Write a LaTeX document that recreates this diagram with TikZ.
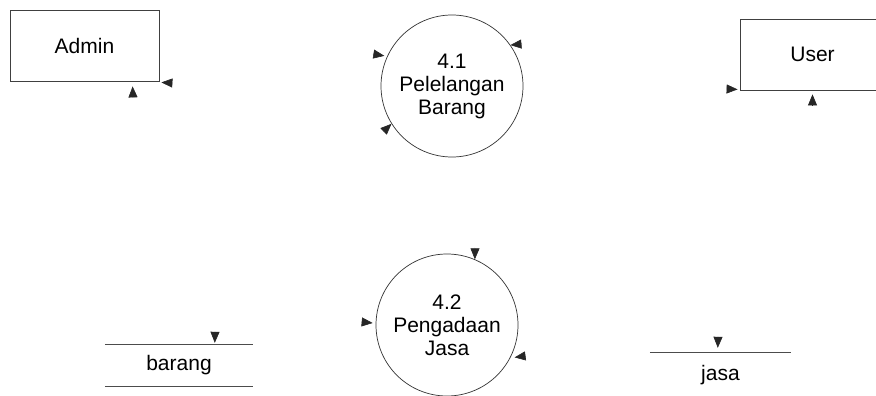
\documentclass[tikz,border=0pt]{standalone}
\usepackage{fontspec}
\setmainfont{Liberation Sans}
\usetikzlibrary{calc,arrows.meta}

\tikzset{
  lbl/.style={font=\fontsize{21}{23}\selectfont, text=black},
  entity/.style={draw=black!75, line width=0.8pt, rectangle, inner sep=0pt, lbl},
  process/.style={draw=black!80, line width=0.7pt, circle, inner sep=0pt,
                  minimum size=142pt, align=center, lbl},
  store/.style={rectangle, inner sep=0pt, lbl},
  storeline/.style={draw=black!70, line width=0.7pt},
  flowtip/.style={-{Triangle[length=11pt,width=9pt]}, black!85, line width=0.6pt}
}

\begin{document}
\begin{tikzpicture}[x=1pt,y=-1pt]
  \useasboundingbox (0,0) rectangle (876,396);

  % external entities
  \node[entity, minimum width=149pt, minimum height=71pt] (Admin) at (84.5,45.5) {Admin};
  \node[entity, minimum width=145pt, minimum height=71pt] (User) at (812.5,54.5) {User};

  % processes
  \node[process] (p41) at (452,86) {4.1\\Pelelangan\\Barang};
  \node[process] (p42) at (447,325) {4.2\\Pengadaan\\Jasa};

  % data stores
  \node[store, minimum width=148pt, minimum height=41pt] (barang) at (179,365.5) {barang};
  \draw[storeline] (barang.north west) -- (barang.north east)
                   (barang.south west) -- (barang.south east);
  \node[store, minimum width=141pt, minimum height=44pt] (jasa) at (720.5,375) {jasa};
  \draw[storeline] (jasa.north west) -- (jasa.north east)
                   (jasa.south west) -- (jasa.south east);

  % tails of the data flows
  \coordinate (t1) at (172,83);
  \coordinate (t2) at (133,97);
  \coordinate (t3) at (373,54);
  \coordinate (t4) at (522,44);
  \coordinate (t5) at (384,131);
  \coordinate (t6) at (727,89);
  \coordinate (t7) at (812.5,105);
  \coordinate (t8) at (475,248);
  \coordinate (t9) at (362,322);
  \coordinate (t10) at (525,356);
  \coordinate (t11) at (215,332);
  \coordinate (t12) at (718,337);

  % data flows (heads only)
  \draw[flowtip] (t1) -- ($(Admin.south east)+(2,1)$);
  \draw[flowtip] (t2) -- ($(Admin.south west)+(123,5)$);
  \draw[flowtip] (t3) -- ($(p41.155)+(-3,0)$);
  \draw[flowtip] (t4) -- (p41.35);
  \draw[flowtip] (t5) -- (p41.212);
  \draw[flowtip] (t6) -- ($(User.south west)+(-2,-1)$);
  \draw[flowtip] (t7) -- ($(User.south)+(0,4)$);
  \draw[flowtip] (t8) -- (p42.67);
  \draw[flowtip] (t9) -- ($(p42.west)+(-3,-2)$);
  \draw[flowtip] (t10) -- ($(p42.-27)+(4,0)$);
  \draw[flowtip] (t11) -- ($(barang.north west)+(110,-2)$);
  \draw[flowtip] (t12) -- ($(jasa.north west)+(68,-5)$);
\end{tikzpicture}
\end{document}
